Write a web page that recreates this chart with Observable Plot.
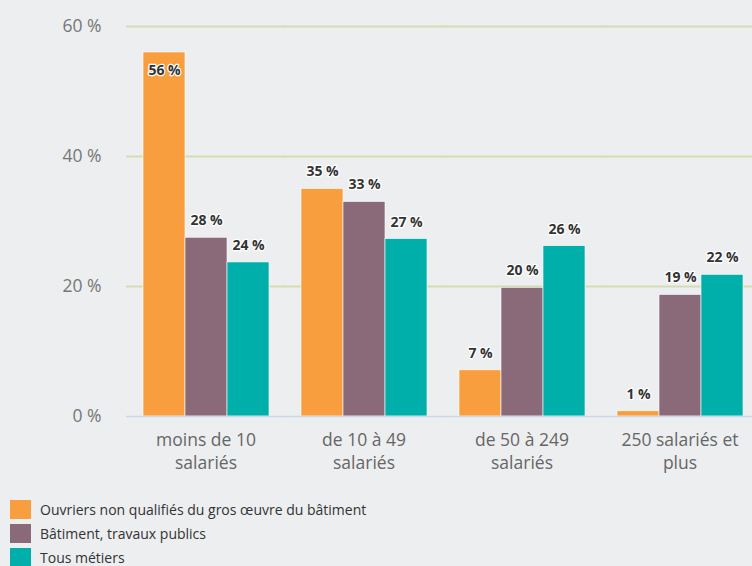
<!DOCTYPE html>
<html>
<head>
<meta charset="utf-8">
<script src="https://cdn.jsdelivr.net/npm/d3@7"></script>
<script src="https://cdn.jsdelivr.net/npm/@observablehq/plot@0.6"></script>
<style>
  html, body { margin: 0; padding: 0; background: #eceef0; overflow: hidden; }
  body { width: 752px; height: 566px; font-family: "Open Sans", sans-serif; }
  #legend { margin-top: 7px; }
  .item { display: flex; align-items: center; height: 24px; padding-left: 10px; font-size: 14px; color: #333; }
  .sw { width: 21px; height: 19px; margin-right: 9px; }
</style>
</head>
<body>
<div id="chart"></div>
<div id="legend"></div>
<script>
const categories = ["moins de 10\nsalariés", "de 10 à 49\nsalariés", "de 50 à 249\nsalariés", "250 salariés et\nplus"];
const seriesNames = ["Ouvriers non qualifiés du gros œuvre du bâtiment", "Bâtiment, travaux publics", "Tous métiers"];
const seriesColors = ["#f99e3e", "#8a6a78", "#00aeaa"];
const ouvriers = [56, 35, 7.1, 0.8];
const btp = [27.5, 33, 19.8, 18.7];
const tous = [23.7, 27.3, 26.2, 21.8];
const yTicks = [0, 20, 40, 60];

const seriesValues = [ouvriers, btp, tous];
const data = [];
categories.forEach((c, i) => {
  seriesValues.forEach((vals, s) => {
    data.push({cat: c, series: seriesNames[s], value: vals[i]});
  });
});
const fmt = d => Math.round(d.value) + " %";

const chart = Plot.plot({
  width: 752,
  height: 490,
  marginTop: 26,
  marginBottom: 74,
  marginLeft: 132,
  marginRight: 0,
  style: {background: "transparent", fontFamily: "Open Sans, sans-serif"},
  fx: {domain: categories, paddingInner: 0.198, paddingOuter: 0.057, label: null},
  x: {domain: seriesNames, padding: 0, axis: null},
  y: {domain: [0, 60], ticks: yTicks, label: null},
  color: {domain: seriesNames, range: seriesColors},
  marks: [
    Plot.ruleY(yTicks.filter(t => t > 0), {stroke: "#d3ddb0", strokeWidth: 2, insetLeft: -16, insetRight: -16}),
    Plot.axisY({ticks: yTicks, tickSize: 0, tickPadding: 41, tickFormat: d => d + " %", fontSize: 17.5, fill: "#777", label: null}),
    Plot.axisFx({anchor: "bottom", tickSize: 0, tickPadding: 12, fontSize: 17.5, lineHeight: 1.37, fill: "#666", label: null}),
    Plot.barY(data, {fx: "cat", x: "series", y: "value", fill: "series", stroke: "#ffffff", strokeWidth: 0.6}),
    Plot.ruleY([0], {stroke: "#ccd6eb", strokeWidth: 1.5, insetLeft: -16, insetRight: -16}),
    Plot.text(data.filter(d => d.value < 50), {fx: "cat", x: "series", y: "value", text: fmt, dy: -17, fontSize: 14, fontWeight: "bold", fill: "#333", stroke: "white", strokeWidth: 2.5, style: "letter-spacing:-0.4px"}),
    Plot.text(data.filter(d => d.value >= 50), {fx: "cat", x: "series", y: "value", text: fmt, dy: 18, fontSize: 14, fontWeight: "bold", fill: "#333", stroke: "white", strokeWidth: 2.5})
  ]
});
document.getElementById("chart").appendChild(chart);

const legend = document.getElementById("legend");
seriesNames.forEach((n, i) => {
  const it = document.createElement("div");
  it.className = "item";
  const sw = document.createElement("span");
  sw.className = "sw";
  sw.style.background = seriesColors[i];
  const t = document.createElement("span");
  t.textContent = n;
  it.appendChild(sw);
  it.appendChild(t);
  legend.appendChild(it);
});
</script>
</body>
</html>
